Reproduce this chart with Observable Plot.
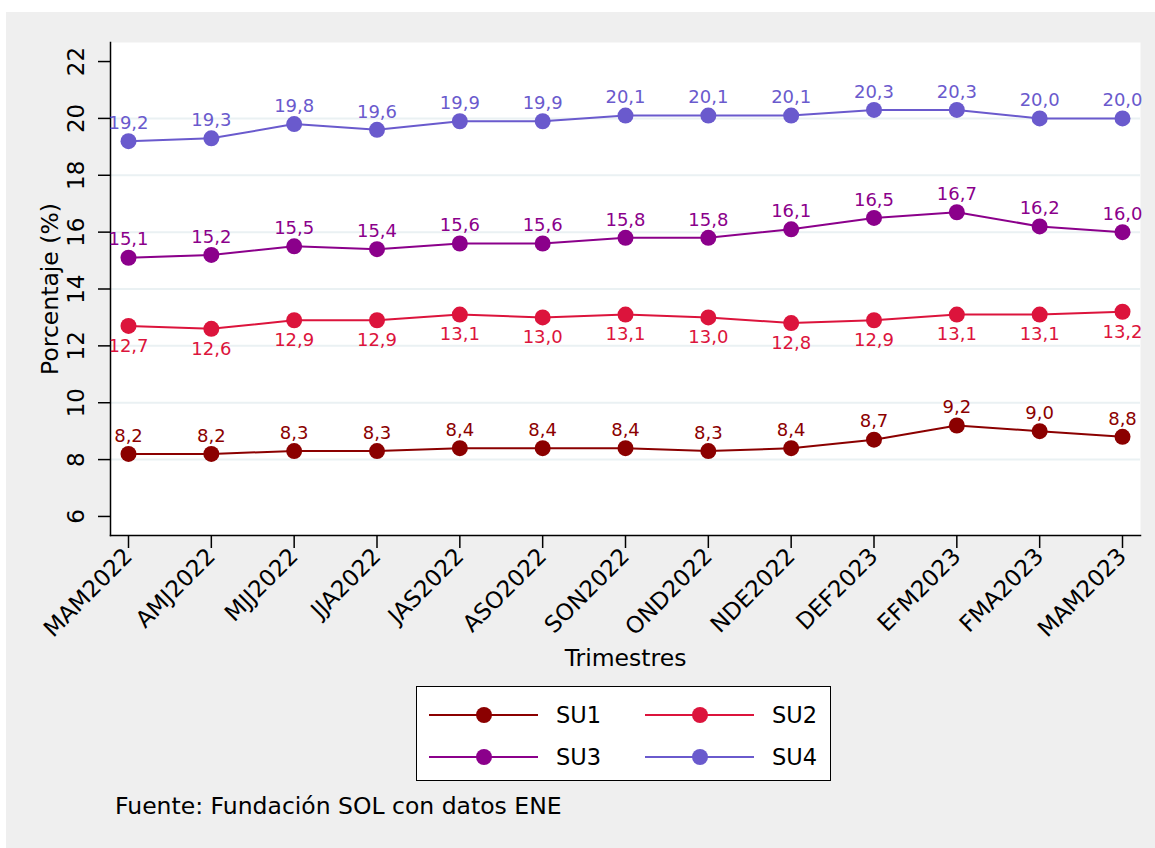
<!DOCTYPE html>
<html>
<head>
<meta charset="utf-8">
<script src="https://cdn.jsdelivr.net/npm/d3@7"></script>
<script src="https://cdn.jsdelivr.net/npm/@observablehq/plot@0.6"></script>
<style>
  html, body { margin: 0; padding: 0; background: #ffffff; }
  body { width: 1155px; height: 848px; position: relative; overflow: hidden; font-family: "DejaVu Sans", sans-serif; }
  #panel { position: absolute; left: 6px; top: 12px; width: 1149px; height: 836px; background: #efefef; }
  #chart { position: absolute; left: 0; top: 0; }
  #legend { position: absolute; left: 410px; top: 674px; width: 413px; height: 93px; border: 1.5px solid #000; background: #fff; box-sizing: content-box; }
  .item { position: absolute; display: flex; align-items: center; font-size: 22.5px; color: #000; }
  .item span { margin-left: 17px; }
  #caption { position: absolute; left: 109px; top: 780px; font-size: 23.5px; color: #000; }
</style>
</head>
<body>
<div id="panel">
  <div id="chart"></div>
  <div id="legend"></div>
  <div id="caption">Fuente: Fundación SOL con datos ENE</div>
</div>
<script>
const quarters = ["MAM2022","AMJ2022","MJJ2022","JJA2022","JAS2022","ASO2022","SON2022","OND2022","NDE2022","DEF2023","EFM2023","FMA2023","MAM2023"];
const seriesNames = ["SU1","SU2","SU3","SU4"];
const seriesColors = ["#8b0000","#dc143c","#8b008b","#6a5acd"];
const su1 = [8.2,8.2,8.3,8.3,8.4,8.4,8.4,8.3,8.4,8.7,9.2,9.0,8.8];
const su2 = [12.7,12.6,12.9,12.9,13.1,13.0,13.1,13.0,12.8,12.9,13.1,13.1,13.2];
const su3 = [15.1,15.2,15.5,15.4,15.6,15.6,15.8,15.8,16.1,16.5,16.7,16.2,16.0];
const su4 = [19.2,19.3,19.8,19.6,19.9,19.9,20.1,20.1,20.1,20.3,20.3,20.0,20.0];
const yTicks = [6,8,10,12,14,16,18,20,22];
const yGrid = [8,10,12,14,16,18,20];
const xTitle = "Trimestres";
const yTitle = "Porcentaje (%)";

const seriesValues = [su1, su2, su3, su4];
const data = [];
seriesNames.forEach((s, i) => {
  seriesValues[i].forEach((v, j) => data.push({series: s, quarter: quarters[j], value: v}));
});
const fmt = v => v.toFixed(1).replace(".", ",");

const chart = Plot.plot({
  width: 1149,
  height: 670,
  marginLeft: 104,
  marginRight: 15,
  marginTop: 30,
  marginBottom: 147,
  style: { background: "transparent", fontFamily: "DejaVu Sans, sans-serif", color: "#000" },
  x: { type: "point", domain: quarters, padding: 0, round: false, insetLeft: 18, insetRight: 18, label: null },
  y: { domain: [5.33, 22.67], label: null },
  color: { domain: seriesNames, range: seriesColors },
  marks: [
    Plot.frame({ fill: "white", stroke: null }),
    Plot.ruleY(yGrid, { stroke: "#eaf1f3", strokeWidth: 2 }),
    Plot.axisY({ ticks: yTicks, tickSize: 12, tickFormat: () => "", label: null, strokeWidth: 1.5 }),
    Plot.text(yTicks, { y: d => d, text: d => String(d), frameAnchor: "left", textAnchor: "middle", dx: -34, rotate: -90, fontSize: 23, fill: "#000" }),
    Plot.axisX({ tickSize: 13, tickRotate: -45, fontSize: 23, tickPadding: 4, label: null, strokeWidth: 1.5 }),
    Plot.frame({ anchor: "left", stroke: "#000", strokeWidth: 1.5 }),
    Plot.frame({ anchor: "bottom", stroke: "#000", strokeWidth: 1.5 }),
    Plot.line(data, { x: "quarter", y: "value", z: "series", stroke: "series", strokeWidth: 2 }),
    Plot.dot(data, { x: "quarter", y: "value", fill: "series", r: 8 }),
    Plot.text(data.filter(d => d.series !== "SU2"), { x: "quarter", y: "value", text: d => fmt(d.value), fill: "series", dy: -18, fontSize: 18 }),
    Plot.text(data.filter(d => d.series === "SU2"), { x: "quarter", y: "value", text: d => fmt(d.value), fill: "series", dy: 20, fontSize: 18 }),
    Plot.text([xTitle], { frameAnchor: "bottom", dy: 130, fontSize: 23.5, fill: "#000" }),
    Plot.text([yTitle], { frameAnchor: "left", textAnchor: "middle", dx: -60, rotate: -90, fontSize: 23.5, fill: "#000" })
  ]
});
document.getElementById("chart").appendChild(chart);

// Legend
const legend = document.getElementById("legend");
seriesNames.forEach((s, i) => {
  const col = i % 2, row = Math.floor(i / 2);
  const div = document.createElement("div");
  div.className = "item";
  div.style.left = (12 + col * 216) + "px";
  div.style.top = (12 + row * 42) + "px";
  div.style.height = "32px";
  const ns = "http://www.w3.org/2000/svg";
  const svg = document.createElementNS(ns, "svg");
  svg.setAttribute("width", "110");
  svg.setAttribute("height", "32");
  const line = document.createElementNS(ns, "line");
  line.setAttribute("x1", "0"); line.setAttribute("x2", "109");
  line.setAttribute("y1", "16"); line.setAttribute("y2", "16");
  line.setAttribute("stroke", seriesColors[i]); line.setAttribute("stroke-width", "2");
  const c = document.createElementNS(ns, "circle");
  c.setAttribute("cx", "55"); c.setAttribute("cy", "16"); c.setAttribute("r", "8");
  c.setAttribute("fill", seriesColors[i]);
  svg.appendChild(line); svg.appendChild(c);
  const span = document.createElement("span");
  span.textContent = s;
  div.appendChild(svg); div.appendChild(span);
  legend.appendChild(div);
});
</script>
</body>
</html>
